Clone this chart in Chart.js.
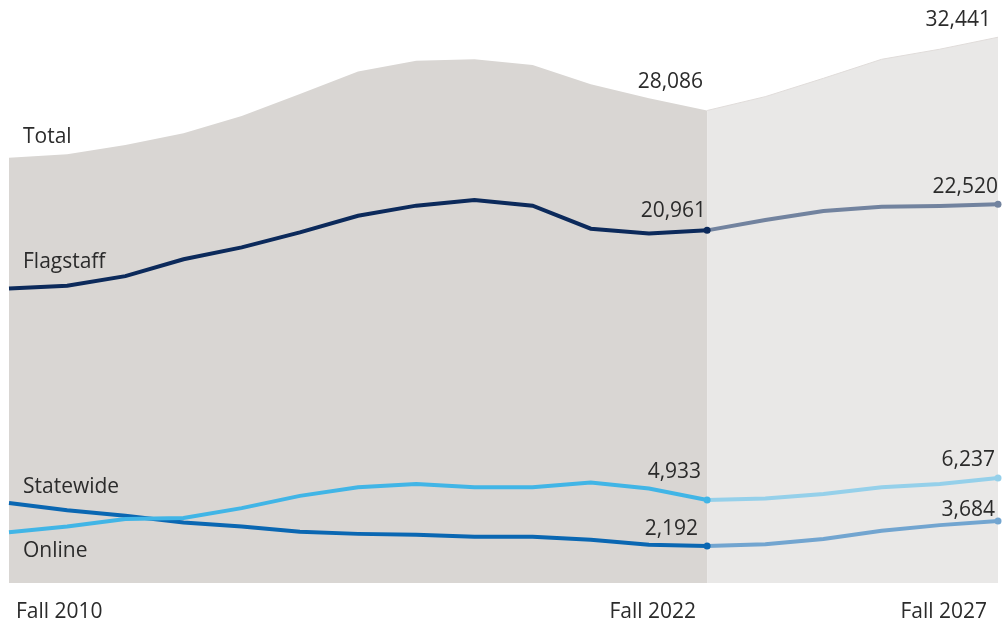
<!DOCTYPE html>
<html lang="en">
<head>
    <meta charset="UTF-8">
    <title>Enrollment by Campus</title>
    <script src="https://cdn.jsdelivr.net/npm/chart.js@4.4.1/dist/chart.umd.min.js"></script>
    <style>
        html, body { margin: 0; padding: 0; background: #ffffff; }
        .chart-wrap { width: 1002px; height: 621px; position: relative; }
    </style>
</head>
<body>
    <div class="chart-wrap">
        <canvas id="enrollChart" width="1002" height="621"></canvas>
    </div>
    <script>
    // Fall 2010 - Fall 2027, actuals through Fall 2022, projections after
    const years = ['Fall 2010', 'Fall 2011', 'Fall 2012', 'Fall 2013', 'Fall 2014', 'Fall 2015',
        'Fall 2016', 'Fall 2017', 'Fall 2018', 'Fall 2019', 'Fall 2020', 'Fall 2021',
        'Fall 2022', 'Fall 2023', 'Fall 2024', 'Fall 2025', 'Fall 2026', 'Fall 2027'];
    const total = [25280, 25480, 26030, 26730, 27760, 29070, 30400, 31050, 31130, 30790, 29650, 28810,
        28086, 28910, 30000, 31130, 31730, 32441];
    const flagstaff = [17510, 17670, 18240, 19240, 19950, 20840, 21830, 22430, 22760, 22430, 21060, 20780,
        20961, 21580, 22110, 22370, 22410, 22520];
    const statewide = [3010, 3360, 3800, 3860, 4450, 5180, 5690, 5880, 5690, 5690, 5980, 5620,
        4933, 5030, 5290, 5690, 5880, 6237];
    const online = [4750, 4330, 4000, 3600, 3360, 3040, 2920, 2870, 2750, 2750, 2570, 2270,
        2192, 2310, 2610, 3100, 3440, 3684];
    const shownTicks = ['Fall 2010', 'Fall 2022', 'Fall 2027'];
    const lastActual = 12;

    const FONT = '21px "Open Sans", sans-serif';
    const TEXT = '#2b2b2b';

    function actualPart(arr) { return arr.map((v, i) => i <= lastActual ? v : null); }
    function projPart(arr) { return arr.map((v, i) => i >= lastActual ? v : null); }

    function lineSet(name, arr, color, projColor) {
        return {
            label: name,
            data: arr,
            borderColor: color,
            borderWidth: 4,
            fill: false,
            tension: 0,
            order: 1,
            pointRadius: ctx => (ctx.dataIndex === lastActual || ctx.dataIndex === arr.length - 1) ? 3.5 : 0,
            pointBackgroundColor: ctx => ctx.dataIndex > lastActual ? projColor : color,
            pointBorderWidth: 0,
            segment: {
                borderColor: ctx => ctx.p0DataIndex >= lastActual ? projColor : color
            }
        };
    }

    // value labels: [dataset label, index, dx, dy]
    const valueLabels = [
        ['Total', 12, -4, -22], ['Total', 17, -7, -11],
        ['Flagstaff', 12, -1, -13], ['Flagstaff', 17, 0, -11],
        ['Statewide', 12, -6, -22], ['Statewide', 17, -3, -12],
        ['Online', 12, -9, -11], ['Online', 17, -3, -5]
    ];
    const seriesNames = [['Total', 143], ['Flagstaff', 268], ['Statewide', 493], ['Online', 557]];

    const labelPlugin = {
        id: 'labelPlugin',
        afterDatasetsDraw(chart) {
            const c = chart.ctx;
            const xs = chart.scales.x, ys = chart.scales.y;
            const byName = { Total: total, Flagstaff: flagstaff, Statewide: statewide, Online: online };
            c.save();
            c.font = FONT;
            c.fillStyle = TEXT;
            c.textBaseline = 'alphabetic';

            c.textAlign = 'right';
            valueLabels.forEach(([name, i, dx, dy]) => {
                const v = byName[name][i];
                c.fillText(v.toLocaleString('en-US'), xs.getPixelForValue(i) + dx, ys.getPixelForValue(v) + dy);
            });

            c.textAlign = 'left';
            seriesNames.forEach(([name, y]) => c.fillText(name, xs.left + 14, y));

            // x-axis labels
            shownTicks.forEach(t => {
                const i = years.indexOf(t);
                const x = xs.getPixelForValue(i);
                if (i === 0) {
                    c.textAlign = 'left';
                    c.fillText(t, x + 7, 618);
                } else {
                    c.textAlign = 'right';
                    c.fillText(t, x - 11, 618);
                }
            });
            c.restore();
        }
    };

    new Chart(document.getElementById('enrollChart'), {
        type: 'line',
        data: {
            labels: years,
            datasets: [
                {
                    label: 'Total actual',
                    data: actualPart(total),
                    backgroundColor: '#d9d6d3',
                    borderWidth: 0,
                    pointRadius: 0,
                    fill: 'origin',
                    tension: 0,
                    order: 10
                },
                {
                    label: 'Total projected',
                    data: projPart(total),
                    backgroundColor: '#e9e8e7',
                    borderColor: '#e0dcda',
                    borderWidth: 1,
                    pointRadius: 0,
                    fill: 'origin',
                    tension: 0,
                    order: 9
                },
                lineSet('Flagstaff', flagstaff, '#0c2a5b', '#72839f'),
                lineSet('Statewide', statewide, '#41b5e6', '#95d0ea'),
                lineSet('Online', online, '#0a67b2', '#72a5d0')
            ]
        },
        options: {
            responsive: false,
            animation: false,
            layout: { padding: { left: 9, right: 2, top: 11, bottom: 38 } },
            plugins: {
                legend: { display: false },
                title: { display: false },
                tooltip: { enabled: false }
            },
            scales: {
                x: { display: false, offset: false },
                y: { display: false, min: 0, max: 34000 }
            }
        },
        plugins: [labelPlugin]
    });
    </script>
</body>
</html>
